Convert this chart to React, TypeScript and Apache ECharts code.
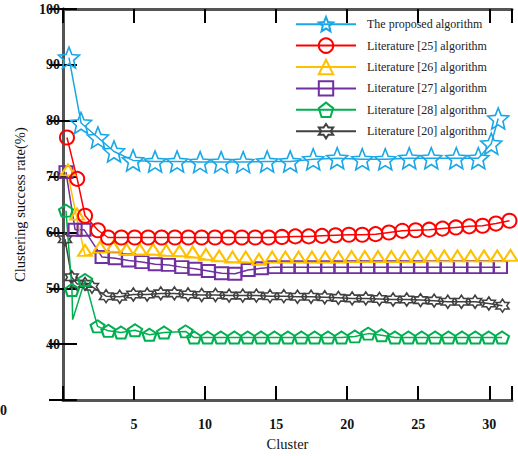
import React, { useEffect, useRef } from "react";
import * as echarts from "echarts";

const FONT = '"Liberation Serif", "Times New Roman", serif';

const seriesNames = [
  "The proposed algorithm",
  "Literature [25] algorithm",
  "Literature [26] algorithm",
  "Literature [27] algorithm",
  "Literature [28] algorithm",
  "Literature [20] algorithm",
];

const xTicks = [0, 5, 10, 15, 20, 25, 30];
const yTicks = [30, 40, 50, 60, 70, 80, 90, 100];

const proposedX = [0.42, 1.27, 2.46, 3.59, 4.93, 6.48, 8.03, 9.65, 11.13, 12.68, 14.37, 15.99, 17.61, 19.3, 21.06, 22.68, 24.37, 25.92, 27.68, 29.23, 30.14, 30.63];
const proposedY = [91.3, 79.6, 77.0, 74.5, 72.9, 72.7, 72.7, 72.6, 72.6, 72.6, 72.7, 72.7, 73.1, 73.3, 73.1, 73.1, 73.3, 73.3, 73.3, 73.3, 75.9, 80.4];

const lit25X = [0.28, 1.0, 1.55, 2.46, 3.17, 4.11, 5.05, 5.99, 6.94, 7.88, 8.82, 9.76, 10.7, 11.64, 12.59, 13.53, 14.47, 15.41, 16.35, 17.29, 18.23, 19.18, 20.12, 21.06, 22.0, 22.94, 23.88, 24.82, 25.77, 26.71, 27.65, 28.59, 29.53, 30.47, 31.42];
const lit25Y = [77.0, 69.6, 63.0, 60.4, 59.1, 59.1, 59.1, 59.1, 59.1, 59.1, 59.1, 59.1, 59.1, 59.1, 59.1, 59.1, 59.1, 59.2, 59.3, 59.3, 59.4, 59.5, 59.6, 59.6, 59.7, 60.0, 60.3, 60.4, 60.5, 60.7, 60.9, 61.1, 61.2, 61.6, 62.1];

const lit26X = [0.35, 0.99, 1.55, 2.61, 3.54, 4.47, 5.4, 6.34, 7.27, 8.2, 9.13, 10.06, 10.99, 11.93, 12.86, 13.79, 14.72, 15.65, 16.58, 17.52, 18.45, 19.38, 20.31, 21.24, 22.17, 23.11, 24.04, 24.97, 25.9, 26.83, 27.76, 28.7, 29.63, 30.56, 31.49];
const lit26Y = [70.3, 62.4, 55.9, 56.5, 56.6, 56.1, 56.1, 56.1, 55.9, 55.8, 55.6, 55.2, 54.9, 54.7, 54.7, 54.3, 54.7, 54.7, 54.7, 54.7, 54.7, 54.7, 54.8, 54.8, 54.8, 54.8, 54.8, 54.8, 54.9, 54.9, 54.9, 54.9, 54.9, 54.9, 55.0];

const lit27X = [0.21, 0.85, 1.48, 2.75, 3.68, 4.62, 5.55, 6.49, 7.42, 8.36, 9.29, 10.23, 11.16, 12.1, 13.03, 13.96, 14.9, 15.83, 16.77, 17.7, 18.64, 19.57, 20.51, 21.44, 22.37, 23.31, 24.24, 25.18, 26.11, 27.05, 27.98, 28.92, 29.85, 30.79];
const lit27Y = [70.8, 60.5, 60.5, 55.6, 55.4, 55.0, 54.7, 54.3, 54.2, 53.8, 53.5, 53.1, 52.7, 52.6, 53.3, 53.6, 53.8, 53.8, 53.8, 53.8, 53.8, 53.8, 53.8, 53.8, 53.8, 53.8, 53.8, 53.8, 53.8, 53.8, 53.8, 53.8, 53.8, 53.8];

const lit28X = [0.21, 0.63, 0.68, 1.55, 2.43, 3.19, 4.08, 5.07, 6.08, 7.11, 8.63, 9.23, 10.17, 11.11, 12.06, 13.0, 13.94, 14.88, 15.83, 16.77, 17.71, 18.65, 19.6, 20.54, 21.48, 22.42, 23.36, 24.31, 25.25, 26.19, 27.13, 28.08, 29.02, 29.96, 30.9];
const lit28Y = [63.9, 49.7, 44.4, 51.5, 43.2, 42.4, 42.1, 42.5, 41.7, 42.1, 42.3, 41.2, 41.2, 41.2, 41.2, 41.2, 41.2, 41.2, 41.2, 41.2, 41.2, 41.2, 41.2, 41.4, 41.9, 41.6, 41.2, 41.2, 41.2, 41.2, 41.2, 41.2, 41.2, 41.2, 41.2];
const lit28Hidden = [2];

const lit20X = [0.14, 0.61, 0.99, 1.55, 2.04, 3.03, 3.99, 4.95, 5.92, 6.88, 7.84, 8.8, 9.76, 10.73, 11.69, 12.65, 13.61, 14.57, 15.54, 16.5, 17.46, 18.42, 19.38, 20.35, 21.31, 22.27, 23.23, 24.19, 25.16, 26.12, 27.08, 28.04, 29.0, 29.97, 30.93];
const lit20Y = [58.8, 52.0, 50.8, 50.8, 50.3, 48.6, 48.5, 48.9, 48.9, 49.1, 49.1, 48.9, 48.8, 48.8, 48.7, 48.7, 48.7, 48.6, 48.6, 48.5, 48.5, 48.4, 48.3, 48.2, 48.2, 48.1, 48.0, 48.0, 47.9, 47.8, 47.6, 47.6, 47.6, 47.3, 46.9];

const colors = ["#1aa7e6", "#ff0000", "#ffc000", "#7030a0", "#00b050", "#404040"];

const STAR5 = "path://M50,0L63.2,31.8L97.6,34.6L71.4,57L79.4,90.5L50,72.5L20.6,90.5L28.6,57L2.4,34.6L36.8,31.8Z";
const PENT = "path://M50,0L100,36.3L80.9,95.1L19.1,95.1L0,36.3Z";
const HEX6 = "path://M50,0L64.4,25L93.3,25L78.9,50L93.3,75L64.4,75L50,100L35.6,75L6.7,75L21.1,50L6.7,25L35.6,25Z";

function zip(xs: number[], ys: number[], hidden: number[] = []) {
  return xs.map((x, i) =>
    hidden.includes(i) ? { value: [x, ys[i]], symbol: "none" } : [x, ys[i]]
  );
}

export default function App() {
  const ref = useRef<HTMLDivElement>(null);
  useEffect(() => {
    document.body.style.margin = "0";
    const chart = echarts.init(ref.current!, null, { renderer: "svg" });
    const mk = (
      idx: number,
      data: any[],
      symbol: string,
      size: number | number[],
      offset: number[] = [0, 0],
      bw: number = 2
    ) => ({
      name: seriesNames[idx],
      type: "line",
      data,
      symbol,
      symbolSize: size,
      symbolOffset: offset,
      color: colors[idx],
      clip: false,
      lineStyle: { color: colors[idx], width: 1.5 },
      itemStyle: { color: "rgba(255,255,255,0)", borderColor: colors[idx], borderWidth: bw },
      emphasis: { disabled: true },
    });
    const axisLineStyle = { color: "#555", width: 3 };
    const tickStyle = { color: "#000", width: 2 };
    chart.setOption({
      animation: false,
      backgroundColor: "#fff",
      grid: { left: 63, right: 6, top: 9, bottom: 52 },
      legend: {
        orient: "vertical",
        left: 290,
        top: 11,
        itemWidth: 60,
        itemHeight: 18,
        itemGap: 5,
        data: seriesNames,
        textStyle: { fontFamily: FONT, fontSize: 12, color: "#222", padding: [0, 0, 0, 6] },
      },
      xAxis: [
        {
          type: "value",
          min: xTicks[0],
          max: 31.6,
          interval: 5,
          name: "Cluster",
          nameLocation: "middle",
          nameGap: 32,
          nameTextStyle: { fontFamily: FONT, fontSize: 14.5, color: "#111" },
          axisLine: { lineStyle: axisLineStyle },
          axisTick: { inside: true, length: 14, lineStyle: tickStyle },
          axisLabel: {
            margin: 17,
            fontFamily: FONT,
            fontSize: 14,
            fontWeight: "bold",
            color: "#111",
            formatter: (v: number) => (xTicks.includes(v) && v !== 0 ? String(v) : ""),
          },
          splitLine: { show: false },
        },
        {
          type: "value",
          position: "top",
          min: xTicks[0],
          max: 31.6,
          interval: 5,
          axisLine: { lineStyle: axisLineStyle },
          axisTick: { inside: true, length: 14, lineStyle: tickStyle },
          axisLabel: { show: false },
          splitLine: { show: false },
        },
      ],
      yAxis: [
        {
          type: "value",
          min: yTicks[0],
          max: 100,
          interval: 10,
          name: "Clustering success rate(%)",
          nameLocation: "middle",
          nameGap: 36,
          nameTextStyle: { fontFamily: FONT, fontSize: 14.5, color: "#111" },
          axisLine: { lineStyle: axisLineStyle },
          axisTick: { inside: true, length: 14, lineStyle: tickStyle },
          axisLabel: {
            margin: 3,
            fontFamily: FONT,
            fontSize: 14,
            fontWeight: "bold",
            color: "#111",
            formatter: (v: number) => (v === yTicks[0] ? "" : String(v)),
          },
          splitLine: { show: false },
        },
        {
          type: "value",
          position: "right",
          min: yTicks[0],
          max: 100,
          interval: 10,
          axisLine: { lineStyle: axisLineStyle },
          axisTick: { inside: true, length: 14, lineStyle: tickStyle },
          axisLabel: { show: false },
          splitLine: { show: false },
        },
      ],
      graphic: [
        {
          type: "text",
          left: 0,
          top: 403,
          style: { text: "0", font: `bold 14px ${FONT}`, fill: "#111" },
        },
      ],
      series: [
        mk(5, zip(lit20X, lit20Y), HEX6, 13, [0, 0], 1.6),
        mk(4, zip(lit28X, lit28Y, lit28Hidden), PENT, [14, 12]),
        mk(3, zip(lit27X, lit27Y), "rect", [13, 12]),
        mk(2, zip(lit26X, lit26Y), "triangle", [14, 11], [0, -5]),
        mk(1, zip(lit25X, lit25Y), "circle", 14),
        mk(0, zip(proposedX, proposedY), STAR5, 21, [0, 0], 1.6),
      ],
    });
    return () => chart.dispose();
  }, []);
  return <div ref={ref} style={{ width: 518, height: 456 }} />;
}
